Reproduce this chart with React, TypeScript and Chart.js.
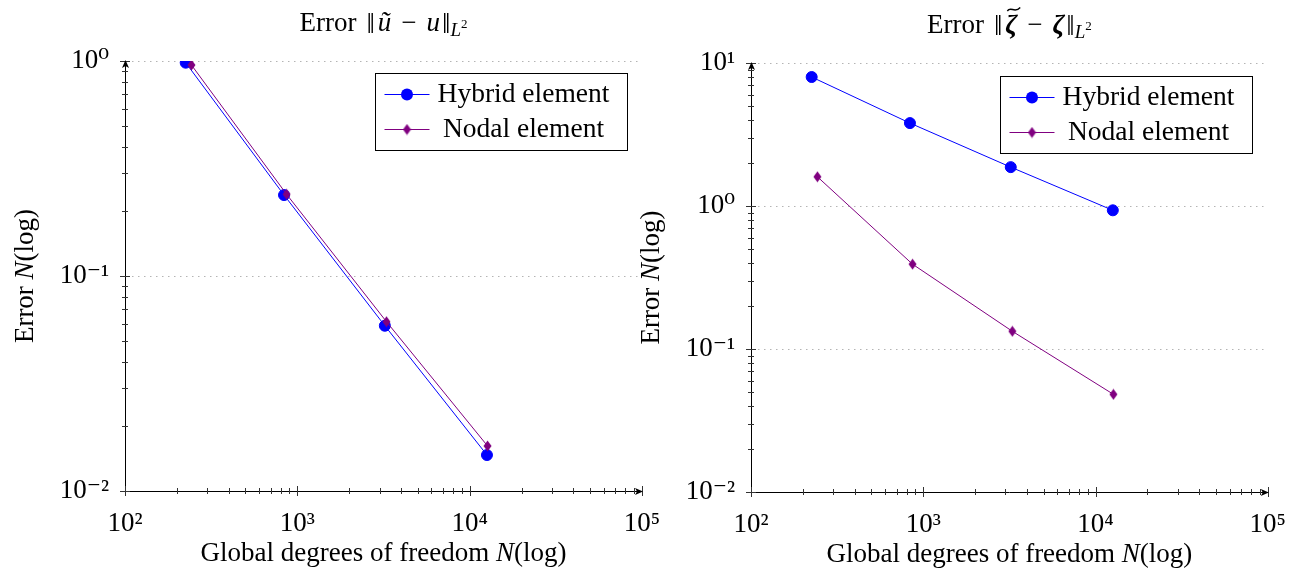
import React, { useEffect, useRef } from 'react';
import { Chart, registerables } from 'chart.js';

Chart.register(...registerables);

const FONT = "'Liberation Serif', 'DejaVu Serif', 'Times New Roman', serif";
const BLUE = '#0000ff';
const PURPLE = '#800080';
const GRID = '#b4b4b4';

// ---- data ----
const seriesLabels = ['Hybrid element', 'Nodal element'];
const dofHybrid = [225, 837, 3220, 12600];
const dofNodal = [243, 866, 3290, 12700];
const errorUHybrid = [0.982, 0.238, 0.0587, 0.0147];
const errorUNodal = [0.958, 0.24, 0.0613, 0.0162];
const errorZetaHybrid = [7.98, 3.8, 1.87, 0.933];
const errorZetaNodal = [1.6, 0.392, 0.133, 0.0482];

// ---- ticks ----
const xMajorTicks = [1e2, 1e3, 1e4, 1e5];
const xTickLabels = ['10²', '10³', '10⁴', '10⁵'];
const yMajorTicksU = [1e-2, 1e-1, 1e0];
const yTickLabelsU = ['10⁻²', '10⁻¹', '10⁰'];
const yMajorTicksZeta = [1e-2, 1e-1, 1e0, 1e1];
const yTickLabelsZeta = ['10⁻²', '10⁻¹', '10⁰', '10¹'];

type Seg = { t: string; style?: string; weight?: string; size?: number; dy?: number; gap?: number; tilde?: boolean };

const titleU: Seg[] = [
  { t: 'Error' },
  { t: '‖', gap: 10, size: 30, dy: 2 },
  { t: 'ũ', style: 'italic', gap: 3 },
  { t: '−', gap: 10 },
  { t: 'u', style: 'italic', gap: 10 },
  { t: '‖', gap: 2, size: 30, dy: 2 },
  { t: 'L', style: 'italic', size: 19, dy: 5 },
  { t: '2', size: 13, dy: -3 },
];
const titleZeta: Seg[] = [
  { t: 'Error' },
  { t: '‖', gap: 10, size: 30, dy: 2 },
  { t: 'ζ', style: 'italic', weight: 'bold', gap: 3, tilde: true },
  { t: '−', gap: 10 },
  { t: 'ζ', style: 'italic', weight: 'bold', gap: 10 },
  { t: '‖', gap: 2, size: 30, dy: 2 },
  { t: 'L', style: 'italic', size: 19, dy: 5 },
  { t: '2', size: 13, dy: -3 },
];
const xAxisTitle: Seg[] = [{ t: 'Global degrees of freedom ' }, { t: 'N', style: 'italic' }, { t: '(log)' }];
const yAxisTitle: Seg[] = [{ t: 'Error ' }, { t: 'N', style: 'italic' }, { t: '(log)' }];

function logTickValues(majors: number[]) {
  const out: number[] = [];
  for (let i = 0; i < majors.length - 1; i++) {
    for (let k = 1; k <= 9; k++) out.push(majors[i] * k);
  }
  out.push(majors[majors.length - 1]);
  return out;
}

function drawRich(ctx: CanvasRenderingContext2D, segs: Seg[], x: number, y: number, base: number, baseline: CanvasTextBaseline) {
  const fonts = segs.map((s) => `${s.style || 'normal'} normal ${s.weight || 'normal'} ${s.size || base}px ${FONT}`);
  const widths = segs.map((s, i) => {
    ctx.font = fonts[i];
    return ctx.measureText(s.t).width;
  });
  const total = widths.reduce((a, b) => a + b, 0) + segs.reduce((a, s) => a + (s.gap || 0), 0);
  let cx = x - total / 2;
  ctx.textAlign = 'left';
  ctx.textBaseline = baseline;
  segs.forEach((s, i) => {
    cx += s.gap || 0;
    ctx.font = fonts[i];
    ctx.fillText(s.t, cx, y + (s.dy || 0));
    if (s.tilde) {
      const w = widths[i];
      const tx = cx + 2;
      const ty = y - 24;
      ctx.save();
      ctx.strokeStyle = ctx.fillStyle as string;
      ctx.lineWidth = 1.4;
      ctx.beginPath();
      ctx.moveTo(tx, ty + 2);
      ctx.bezierCurveTo(tx + w * 0.3, ty - 3.5, tx + w * 0.6, ty + 5, tx + w + 1, ty - 1.5);
      ctx.stroke();
      ctx.restore();
    }
    cx += widths[i];
  });
}

type Params = {
  title: Seg[];
  hybrid: number[];
  nodal: number[];
  yMajors: number[];
  yLabels: string[];
  top: number;
  padRight: number;
  yAxisWidth: number;
  xAxisHeight: number;
  legendRight: number;
  legendTop: number;
};

function buildChart(canvas: HTMLCanvasElement, p: Params) {
  const diamond = document.createElement('canvas');
  diamond.width = 9;
  diamond.height = 12;
  const dctx = diamond.getContext('2d')!;
  dctx.fillStyle = PURPLE;
  dctx.beginPath();
  dctx.moveTo(4.5, 0.5);
  dctx.lineTo(8.5, 6);
  dctx.lineTo(4.5, 11.5);
  dctx.lineTo(0.5, 6);
  dctx.closePath();
  dctx.fill();

  const xTicks = logTickValues(xMajorTicks);
  const yTicks = logTickValues(p.yMajors);

  const decor = {
    id: 'decor',
    afterDraw(chart: any) {
      const { ctx, chartArea: a } = chart;
      const x = chart.scales.x;
      const y = chart.scales.y;
      ctx.save();
      // tick marks crossing the axes
      ctx.strokeStyle = '#333';
      ctx.lineWidth = 1;
      ctx.beginPath();
      xTicks.forEach((v) => {
        const px = Math.round(x.getPixelForValue(v)) + 0.5;
        const l = xMajorTicks.includes(v) ? 5 : 3;
        ctx.moveTo(px, a.bottom - l);
        ctx.lineTo(px, a.bottom + l);
      });
      yTicks.forEach((v) => {
        const py = Math.round(y.getPixelForValue(v)) + 0.5;
        const l = p.yMajors.includes(v) ? 5 : 3;
        ctx.moveTo(a.left - l, py);
        ctx.lineTo(a.left + l, py);
      });
      ctx.stroke();

      // arrows
      ctx.fillStyle = '#000';
      const bx = a.right;
      const by = Math.round(a.bottom) + 0.5;
      ctx.beginPath();
      ctx.moveTo(bx + 1, by);
      ctx.lineTo(bx - 7, by - 3.5);
      ctx.lineTo(bx - 5, by);
      ctx.lineTo(bx - 7, by + 3.5);
      ctx.closePath();
      ctx.fill();
      const lx = Math.round(a.left) + 0.5;
      const ty = a.top;
      ctx.beginPath();
      ctx.moveTo(lx, ty - 1);
      ctx.lineTo(lx - 3.5, ty + 7);
      ctx.lineTo(lx, ty + 5);
      ctx.lineTo(lx + 3.5, ty + 7);
      ctx.closePath();
      ctx.fill();

      // legend
      const w = 252;
      const h = 77;
      const x0 = Math.round(a.right - p.legendRight - w) + 0.5;
      const y0 = Math.round(a.top + p.legendTop) + 0.5;
      ctx.fillStyle = '#fff';
      ctx.fillRect(x0, y0, w, h);
      ctx.strokeStyle = '#000';
      ctx.lineWidth = 1;
      ctx.strokeRect(x0, y0, w, h);
      chart.data.datasets.forEach((ds: any, i: number) => {
        const cy = Math.round(y0 + 20.5 + i * 34.5) + 0.5;
        ctx.strokeStyle = ds.borderColor;
        ctx.lineWidth = 1;
        ctx.beginPath();
        ctx.moveTo(x0 + 9, cy);
        ctx.lineTo(x0 + 54, cy);
        ctx.stroke();
        const mx = x0 + 31.5;
        if (i === 0) {
          ctx.fillStyle = BLUE;
          ctx.beginPath();
          ctx.arc(mx, cy, 6, 0, Math.PI * 2);
          ctx.fill();
        } else {
          ctx.drawImage(diamond, mx - 4.5, cy - 6);
        }
        ctx.fillStyle = '#000';
        ctx.font = `27.5px ${FONT}`;
        ctx.textAlign = 'center';
        ctx.textBaseline = 'middle';
        ctx.fillText(ds.label, x0 + 148, cy);
      });

      // titles
      ctx.fillStyle = '#000';
      const midX = (a.left + a.right) / 2;
      drawRich(ctx, p.title, midX, a.top - 30, 27, 'alphabetic');
      drawRich(ctx, xAxisTitle, midX, a.bottom + 63, 27, 'middle');
      ctx.save();
      ctx.translate(a.left - 99, (a.top + a.bottom) / 2);
      ctx.rotate(-Math.PI / 2);
      drawRich(ctx, yAxisTitle, 0, 0, 27, 'middle');
      ctx.restore();
      ctx.restore();
    },
  };

  return new Chart(canvas, {
    type: 'line',
    data: {
      datasets: [
        {
          label: seriesLabels[0],
          data: dofHybrid.map((xv, i) => ({ x: xv, y: p.hybrid[i] })),
          borderColor: BLUE,
          backgroundColor: BLUE,
          borderWidth: 1,
          pointStyle: 'circle',
          pointRadius: 5.5,
          pointBorderWidth: 1,
          pointBackgroundColor: BLUE,
          pointBorderColor: BLUE,
          tension: 0,
          order: 2,
        },
        {
          label: seriesLabels[1],
          data: dofNodal.map((xv, i) => ({ x: xv, y: p.nodal[i] })),
          borderColor: PURPLE,
          backgroundColor: PURPLE,
          borderWidth: 1,
          pointStyle: diamond,
          pointRadius: 5,
          tension: 0,
          order: 1,
        },
      ],
    },
    options: {
      responsive: false,
      animation: false,
      events: [],
      layout: { padding: { left: 0, right: p.padRight, top: p.top, bottom: 0 } },
      plugins: {
        legend: { display: false },
        title: { display: false },
        tooltip: { enabled: false },
      },
      scales: {
        x: {
          type: 'logarithmic',
          position: 'bottom',
          min: xMajorTicks[0],
          max: xMajorTicks[xMajorTicks.length - 1],
          afterBuildTicks: (s: any) => {
            s.ticks = xTicks.map((v) => ({ value: v }));
          },
          afterFit: (s: any) => {
            s.height = p.xAxisHeight;
          },
          ticks: {
            autoSkip: false,
            maxRotation: 0,
            minRotation: 0,
            padding: 17,
            color: '#000',
            font: { family: FONT, size: 27 },
            callback: (v: any) => {
              const i = xMajorTicks.indexOf(Number(v));
              return i >= 0 ? xTickLabels[i] : '';
            },
          },
          grid: { display: false, drawTicks: false },
          border: { display: true, color: '#000', width: 1 },
        },
        y: {
          type: 'logarithmic',
          position: 'left',
          min: p.yMajors[0],
          max: p.yMajors[p.yMajors.length - 1],
          afterBuildTicks: (s: any) => {
            s.ticks = yTicks.map((v) => ({ value: v }));
          },
          afterFit: (s: any) => {
            s.width = p.yAxisWidth;
          },
          ticks: {
            autoSkip: false,
            padding: 16,
            color: '#000',
            font: { family: FONT, size: 27 },
            callback: (v: any) => {
              const i = p.yMajors.indexOf(Number(v));
              return i >= 0 ? p.yLabels[i] : '';
            },
          },
          grid: {
            display: true,
            drawTicks: false,
            lineWidth: 1,
            color: (c: any) => (c.tick && p.yMajors.includes(c.tick.value) ? GRID : 'transparent'),
          },
          border: { display: true, color: '#000', width: 1, dash: [1.5, 4.5] },
        },
      },
    },
    plugins: [decor],
  } as any);
}

export default function App() {
  const leftRef = useRef<HTMLCanvasElement>(null);
  const rightRef = useRef<HTMLCanvasElement>(null);

  useEffect(() => {
    const c1 = buildChart(leftRef.current!, {
      title: titleU,
      hybrid: errorUHybrid,
      nodal: errorUNodal,
      yMajors: yMajorTicksU,
      yLabels: yTickLabelsU,
      top: 61,
      padRight: 48,
      yAxisWidth: 125,
      xAxisHeight: 89,
      legendRight: 15,
      legendTop: 12,
    });
    const c2 = buildChart(rightRef.current!, {
      title: titleZeta,
      hybrid: errorZetaHybrid,
      nodal: errorZetaNodal,
      yMajors: yMajorTicksZeta,
      yLabels: yTickLabelsZeta,
      top: 63,
      padRight: 35,
      yAxisWidth: 131,
      xAxisHeight: 88,
      legendRight: 16,
      legendTop: 13,
    });
    return () => {
      c1.destroy();
      c2.destroy();
    };
  }, []);

  return (
    <div style={{ position: 'fixed', left: 0, top: 0, width: 1303, height: 580, background: '#fff', overflow: 'hidden' }}>
      <canvas ref={leftRef} width={690} height={580} style={{ position: 'absolute', left: 0, top: 0, width: 690, height: 580 }} />
      <canvas ref={rightRef} width={683} height={580} style={{ position: 'absolute', left: 620, top: 0, width: 683, height: 580 }} />
    </div>
  );
}
